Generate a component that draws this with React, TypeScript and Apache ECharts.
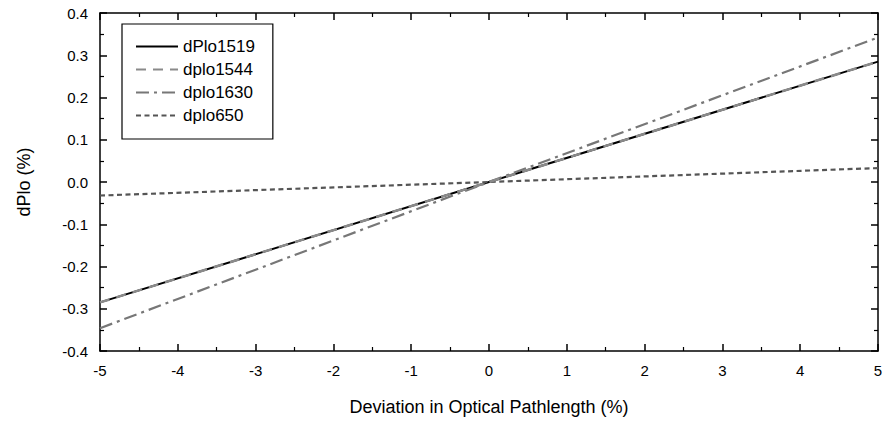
import React, { useEffect, useRef } from "react";
import * as echarts from "echarts";

const xValues = [-5, 0, 5];
const dPlo1519 = [-0.285, 0, 0.285];
const dplo1544 = [-0.285, 0, 0.285];
const dplo1630 = [-0.346, 0, 0.342];
const dplo650 = [-0.032, 0, 0.033];
const seriesNames = ["dPlo1519", "dplo1544", "dplo1630", "dplo650"];

const FONT = "Liberation Sans, Arial, sans-serif";

export default function App() {
  const ref = useRef<HTMLDivElement>(null);
  useEffect(() => {
    if (!ref.current) return;
    const chart = echarts.init(ref.current, null, { renderer: "svg" });
    const pairs = (ys: number[]) => xValues.map((x, i) => [x, ys[i]]);
    const axisCommon = {
      axisLine: { show: true, onZero: false, lineStyle: { color: "#000", width: 1.5 } },
      axisTick: { show: true, inside: true, length: 7, lineStyle: { color: "#000", width: 1.5 } },
      minorTick: { show: true, splitNumber: 2, length: 4, lineStyle: { color: "#000", width: 1.2 } },
      splitLine: { show: false },
    };
    chart.setOption({
      animation: false,
      textStyle: { fontFamily: FONT },
      grid: { left: 100, right: 8, top: 13, bottom: 74, containLabel: false },
      legend: {
        data: seriesNames,
        orient: "vertical",
        left: 122,
        top: 24,
        itemWidth: 42,
        itemHeight: 14,
        itemGap: 6,
        padding: [14, 18, 15, 13],
        borderColor: "#000",
        borderWidth: 1.2,
        backgroundColor: "#fff",
        itemStyle: { opacity: 0 },
        textStyle: { fontFamily: FONT, fontSize: 17, color: "#000" },
      },
      xAxis: [
        {
          type: "value",
          min: -5,
          max: 5,
          interval: 1,
          position: "bottom",
          ...axisCommon,
          axisLabel: { color: "#000", fontSize: 15, fontFamily: FONT, margin: 12 },
          name: "Deviation in Optical Pathlength (%)",
          nameLocation: "middle",
          nameGap: 47,
          nameTextStyle: { color: "#000", fontSize: 18, fontFamily: FONT },
        },
        {
          type: "value",
          min: -5,
          max: 5,
          interval: 1,
          position: "top",
          ...axisCommon,
          axisLabel: { show: false },
        },
      ],
      yAxis: [
        {
          type: "value",
          min: -0.4,
          max: 0.4,
          interval: 0.1,
          position: "left",
          ...axisCommon,
          axisLabel: {
            color: "#000",
            fontSize: 15,
            fontFamily: FONT,
            margin: 12,
            formatter: (v: number) => v.toFixed(1),
          },
          name: "dPlo (%)",
          nameLocation: "middle",
          nameGap: 67,
          nameTextStyle: { color: "#000", fontSize: 18, fontFamily: FONT },
        },
        {
          type: "value",
          min: -0.4,
          max: 0.4,
          interval: 0.1,
          position: "right",
          ...axisCommon,
          axisLabel: { show: false },
        },
      ],
      series: [
        {
          name: "dPlo1519",
          type: "line",
          data: pairs(dPlo1519),
          showSymbol: false,
          symbol: "none",
          lineStyle: { color: "#000", width: 2, type: "solid" },
          itemStyle: { color: "#000" },
          z: 2,
        },
        {
          name: "dplo1544",
          type: "line",
          data: pairs(dplo1544),
          showSymbol: false,
          symbol: "none",
          lineStyle: { color: "#8a8a8a", width: 2.5, type: [10, 7] },
          itemStyle: { color: "#8a8a8a" },
          z: 3,
        },
        {
          name: "dplo1630",
          type: "line",
          data: pairs(dplo1630),
          showSymbol: false,
          symbol: "none",
          lineStyle: { color: "#777", width: 2.2, type: [13, 5, 3, 5] },
          itemStyle: { color: "#777" },
          z: 2,
        },
        {
          name: "dplo650",
          type: "line",
          data: pairs(dplo650),
          showSymbol: false,
          symbol: "none",
          lineStyle: { color: "#555", width: 2.2, type: [5, 3.5] },
          itemStyle: { color: "#555" },
          z: 2,
        },
      ],
    });
    return () => chart.dispose();
  }, []);
  return (
    <div
      ref={ref}
      style={{ position: "absolute", left: 0, top: 0, width: 886, height: 425 }}
    />
  );
}
